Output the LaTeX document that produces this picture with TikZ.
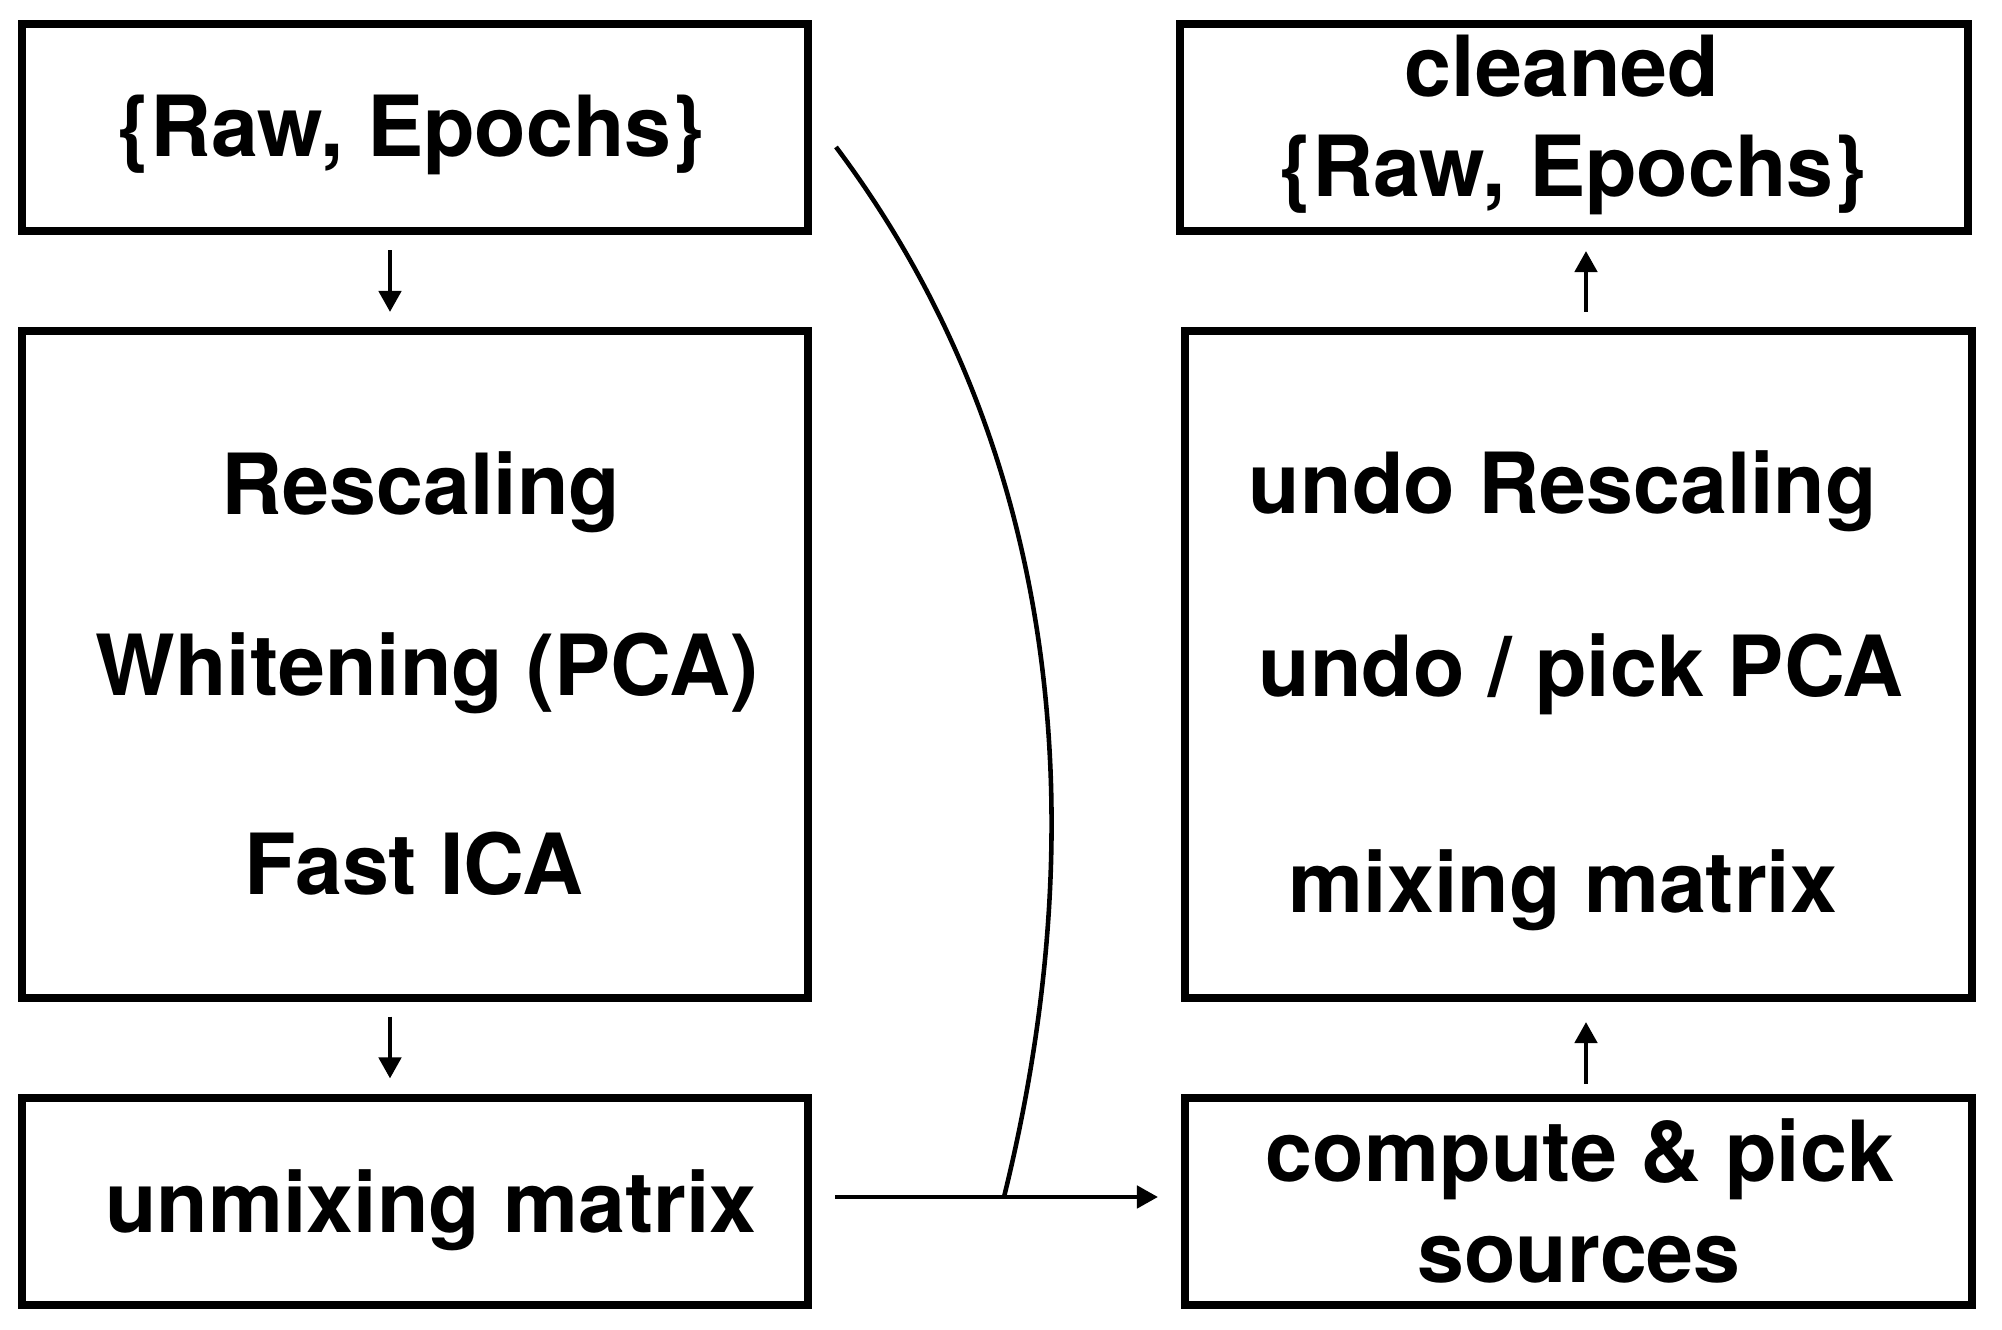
\documentclass[tikz,border=0pt]{standalone}
\usepackage{fontspec}
\setmainfont{TeX Gyre Heros}
\usetikzlibrary{arrows.meta}

\begin{document}
\begin{tikzpicture}[
  mybox/.style={
    draw,
    line width=2pt,
    inner sep=0pt
  },
  mytext/.style={
    anchor=base,
    inner sep=0pt,
    font=\fontsize{24}{28}\selectfont\bfseries
  },
  myarrow/.style={
    line width=1.3pt,
    -{Triangle[length=2.1mm,width=2.2mm]}
  }
]
\useasboundingbox (0,0) rectangle (20.02,13.30);
% left column
\node[mybox, minimum width=7.86cm, minimum height=2.07cm] (raw) at (4.15,12.025) {};
\node[mybox, minimum width=7.86cm, minimum height=6.67cm] (prep) at (4.15,6.655) {};
\node[mybox, minimum width=7.86cm, minimum height=2.07cm] (unmix) at (4.15,1.285) {};
\node[mytext] (rawtxt) at (4.11,11.73) {\{Raw, Epochs\}};
\node[mytext] (rescale) at (4.21,8.15) {Rescaling};
\node[mytext] (whiten) at (4.27,6.34) {Whitening (PCA)};
\node[mytext] (fastica) at (4.14,4.35) {Fast ICA};
\node[mytext] (unmixtxt) at (4.31,0.97) {unmixing matrix};
% right column
\node[mybox, minimum width=7.88cm, minimum height=2.07cm] (clean) at (15.74,12.025) {};
\node[mybox, minimum width=7.87cm, minimum height=6.67cm] (undo) at (15.785,6.655) {};
\node[mybox, minimum width=7.87cm, minimum height=2.07cm] (sources) at (15.785,1.285) {};
\node[mytext] (cleantxt) at (15.62,12.33) {cleaned};
\node[mytext] (cleanraw) at (15.73,11.33) {\{Raw, Epochs\}};
\node[mytext] (undoscale) at (15.63,8.16) {undo Rescaling};
\node[mytext] (undopca) at (15.81,6.33) {undo / pick PCA};
\node[mytext] (mixtxt) at (15.63,4.17) {mixing matrix};
\node[mytext] (comptxt) at (15.80,1.48) {compute \& pick};
\node[mytext] (srctxt) at (15.79,0.47) {sources};
% arrows
\draw[myarrow, shorten <=1.55mm, shorten >=1.55mm] ([xshift=-2.5mm]raw.south) -- ([xshift=-2.5mm]prep.north);
\draw[myarrow, shorten <=1.5mm, shorten >=1.6mm] ([xshift=-2.5mm]prep.south) -- ([xshift=-2.5mm]unmix.north);
\draw[myarrow, shorten <=1.05mm, shorten >=2.05mm] ([xshift=0.75mm]sources.north) -- ([xshift=0.75mm]undo.south);
\draw[myarrow, shorten <=1.55mm, shorten >=1.65mm] ([xshift=0.75mm]undo.north) -- ([xshift=0.75mm]undo.north |- clean.south);
\draw[myarrow, shorten <=2.35mm, shorten >=2.35mm] ([yshift=0.45mm]unmix.east) -- ([yshift=0.45mm]sources.west);
% curved link
\coordinate (fork) at (8.36,11.83);
\coordinate (join) at (10.04,1.33);
\draw[line width=1.3pt] (fork) .. controls (10.64,8.79) and (10.95,5.01) .. (join);
\end{tikzpicture}
\end{document}
